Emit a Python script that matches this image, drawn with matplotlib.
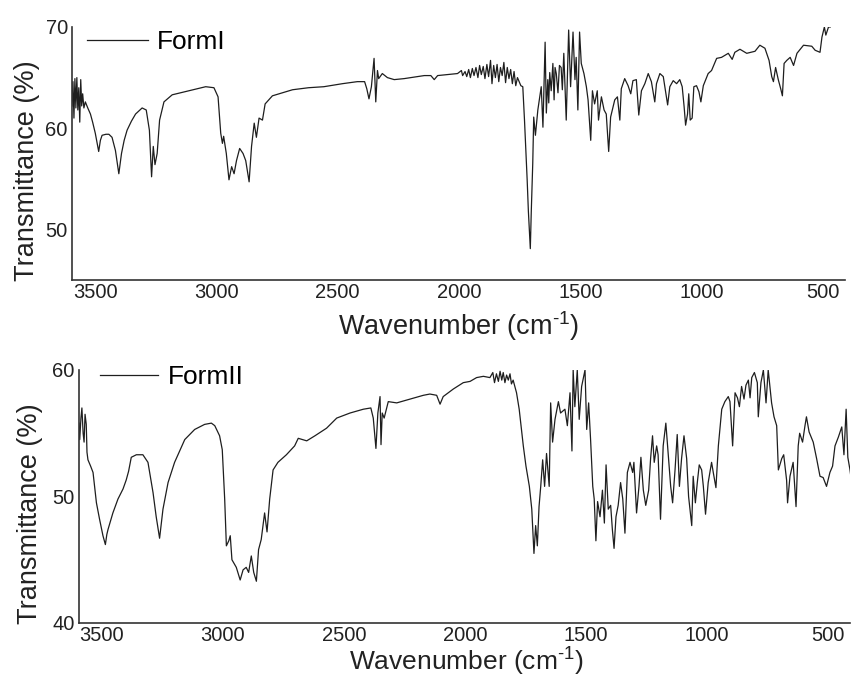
import numpy as np
import matplotlib
matplotlib.use("Agg")
import matplotlib.pyplot as plt

plt.rcParams['font.family'] = ['Liberation Sans', 'DejaVu Sans']
plt.rcParams['mathtext.fontset'] = 'custom'
plt.rcParams['mathtext.rm'] = 'Liberation Sans'
plt.rcParams['mathtext.it'] = 'Liberation Sans'

# ---------------- data: Form I ----------------
form1_wn = np.array([
    3595, 3591, 3587, 3583, 3579, 3575, 3571, 3567, 3563, 3559, 3555, 3551, 3546, 3540, 3530,
    3519, 3510, 3499, 3485, 3478, 3471, 3455, 3443, 3430, 3416, 3402, 3391, 3380, 3368, 3350,
    3333, 3306, 3289, 3276, 3267, 3260, 3253, 3244, 3234, 3216, 3182, 3113, 3044, 3010, 2993,
    2982, 2975, 2970, 2959, 2948, 2937, 2927, 2917, 2904, 2890, 2879, 2865, 2855, 2844, 2835,
    2824, 2810, 2799, 2769, 2714, 2686, 2620, 2557, 2480, 2419, 2389, 2380, 2371, 2361, 2350,
    2343, 2336, 2331, 2316, 2295, 2267, 2226, 2143, 2116, 2102, 2088, 2006, 1990, 1985, 1975,
    1968, 1960, 1953, 1945, 1938, 1930, 1922, 1915, 1908, 1900, 1893, 1885, 1878, 1870, 1864,
    1857, 1850, 1843, 1836, 1829, 1822, 1815, 1808, 1801, 1794, 1787, 1780, 1773, 1766, 1759,
    1752, 1745, 1737, 1730, 1719, 1714, 1706, 1702, 1696, 1692, 1685, 1675, 1661, 1654, 1645,
    1640, 1634, 1630, 1626, 1620, 1613, 1608, 1604, 1599, 1592, 1586, 1579, 1574, 1568, 1558,
    1548, 1540, 1530, 1522, 1517, 1510, 1503, 1496, 1485, 1475, 1468, 1457, 1450, 1441, 1430,
    1425, 1413, 1402, 1393, 1383, 1375, 1358, 1347, 1337, 1331, 1317, 1303, 1292, 1283, 1269,
    1259, 1248, 1234, 1220, 1207, 1193, 1186, 1172, 1158, 1140, 1131, 1117, 1103, 1090, 1080,
    1072, 1066, 1058, 1053, 1047, 1039, 1032, 1021, 1011, 1003, 993, 973, 959, 938, 918,
    890, 874, 863, 842, 814, 780, 760, 739, 722, 711, 704, 695, 684, 674, 667,
    660, 649, 635, 621, 607, 580, 546, 532, 512, 504, 494, 488, 477, 470])
form1_t = np.array([
    62.2, 64.6, 61.0, 64.9, 62.0, 65.0, 61.8, 64.0, 60.6, 64.8, 62.2, 63.4, 62.0, 62.6, 62.0,
    61.4, 60.6, 59.5, 57.7, 58.8, 59.3, 59.4, 59.4, 59.1, 57.8, 55.5, 57.5, 58.8, 59.8, 60.7,
    61.4, 62.0, 61.8, 59.8, 55.2, 58.2, 56.4, 57.5, 60.8, 62.6, 63.3, 63.7, 64.1, 64.0, 63.1,
    59.5, 58.5, 59.2, 57.5, 54.9, 56.2, 55.5, 56.8, 58.0, 57.5, 56.8, 54.7, 58.2, 60.5, 59.1,
    61.0, 60.8, 62.4, 63.2, 63.6, 63.8, 64.0, 64.1, 64.4, 64.6, 64.6, 63.9, 62.9, 64.1, 66.9,
    62.6, 65.7, 64.9, 65.4, 65.0, 64.8, 64.9, 65.2, 65.2, 64.8, 65.2, 65.4, 65.7, 65.2, 65.6,
    65.1, 65.8, 65.0, 65.9, 65.2, 66.0, 65.0, 66.2, 65.3, 66.1, 64.9, 66.3, 65.1, 66.7, 64.4,
    66.2, 65.0, 66.3, 64.6, 66.0, 65.2, 66.5, 64.5, 66.0, 64.9, 65.8, 64.4, 65.6, 64.2, 65.0,
    64.6, 64.2, 64.1, 60.8, 54.9, 51.8, 48.1, 51.8, 56.5, 61.1, 59.3, 61.8, 64.1, 60.1, 68.5,
    61.5, 64.8, 62.5, 65.5, 63.7, 66.4, 62.8, 66.0, 65.4, 63.5, 66.2, 66.0, 63.8, 67.4, 60.8,
    69.7, 64.1, 69.5, 64.8, 67.0, 61.8, 69.5, 66.4, 65.4, 64.1, 62.8, 58.8, 63.7, 62.4, 63.7,
    60.8, 63.1, 61.8, 61.4, 57.7, 61.1, 62.8, 63.1, 60.8, 63.9, 64.9, 64.2, 63.4, 64.7, 64.8,
    61.3, 63.7, 64.4, 65.4, 64.6, 62.6, 64.4, 65.4, 65.1, 62.3, 64.1, 64.7, 64.4, 64.8, 64.1,
    62.1, 60.3, 61.4, 63.4, 60.8, 61.0, 64.1, 64.2, 63.6, 62.6, 64.2, 65.4, 65.7, 66.9, 67.0,
    67.4, 66.8, 67.5, 67.8, 67.4, 67.6, 68.2, 67.9, 66.7, 65.1, 64.6, 66.0, 64.8, 63.9, 63.2,
    66.4, 66.7, 67.0, 66.2, 67.4, 68.2, 68.1, 67.7, 67.5, 69.0, 70.0, 69.2, 70.0, 70.0])

# ---------------- data: Form II ----------------
form2_wn = np.array([
    3595, 3592, 3587, 3583, 3578, 3574, 3570, 3565, 3562, 3558, 3547, 3537, 3523, 3510, 3496,
    3486, 3480, 3475, 3455, 3434, 3413, 3400, 3390, 3379, 3358, 3331, 3310, 3289, 3276, 3262,
    3248, 3227, 3200, 3158, 3117, 3076, 3048, 3034, 3014, 3003, 2993, 2986, 2976, 2970, 2963,
    2945, 2929, 2917, 2904, 2894, 2883, 2873, 2862, 2853, 2842, 2828, 2818, 2807, 2793, 2773,
    2738, 2704, 2689, 2654, 2620, 2572, 2530, 2475, 2420, 2389, 2379, 2368, 2360, 2351, 2347,
    2342, 2334, 2317, 2282, 2227, 2172, 2145, 2117, 2103, 2090, 2048, 2007, 1979, 1952, 1924,
    1897, 1885, 1878, 1870, 1862, 1855, 1848, 1842, 1835, 1828, 1821, 1814, 1808, 1801, 1787,
    1776, 1766, 1759, 1748, 1734, 1724, 1715, 1708, 1701, 1694, 1687, 1679, 1671, 1663, 1652,
    1646, 1638, 1628, 1614, 1605, 1587, 1577, 1566, 1558, 1553, 1546, 1536, 1528, 1518, 1504,
    1497, 1489, 1481, 1472, 1466, 1459, 1452, 1442, 1432, 1424, 1417, 1408, 1398, 1391, 1384,
    1376, 1367, 1357, 1348, 1339, 1329, 1318, 1307, 1302, 1291, 1281, 1273, 1263, 1253, 1241,
    1233, 1225, 1218, 1208, 1202, 1192, 1181, 1170, 1160, 1150, 1142, 1132, 1123, 1114, 1105,
    1095, 1084, 1076, 1063, 1057, 1048, 1040, 1032, 1022, 1015, 1006, 995, 981, 974, 963,
    953, 939, 926, 912, 905, 894, 884, 874, 866, 857, 847, 839, 829, 822, 815,
    804, 792, 788, 777, 767, 756, 747, 733, 723, 712, 705, 691, 683, 671, 667,
    657, 644, 632, 623, 617, 605, 595, 589, 578, 561, 547, 533, 520, 506, 492,
    481, 471, 457, 443, 434, 425, 418, 409, 402])
form2_t = np.array([
    55.8, 54.5, 56.2, 57.0, 55.0, 54.3, 56.5, 55.7, 53.5, 52.9, 52.4, 51.9, 49.5, 48.2, 46.9,
    46.2, 47.0, 47.4, 48.7, 49.8, 50.6, 51.3, 52.0, 53.1, 53.3, 53.3, 52.7, 50.3, 48.4, 46.7,
    49.0, 51.1, 52.7, 54.5, 55.3, 55.7, 55.8, 55.6, 54.8, 53.7, 49.8, 46.1, 46.5, 46.9, 45.0,
    44.4, 43.4, 44.2, 44.4, 44.0, 45.3, 44.0, 43.3, 45.8, 46.6, 48.7, 47.2, 49.8, 52.1, 52.7,
    53.3, 54.0, 54.6, 54.4, 54.8, 55.4, 56.2, 56.6, 56.9, 57.0, 56.2, 53.8, 56.6, 57.9, 54.1,
    56.6, 56.2, 57.5, 57.4, 57.7, 58.0, 58.1, 58.0, 57.3, 57.9, 58.5, 59.0, 59.1, 59.4, 59.5,
    59.4, 59.8, 59.0, 59.7, 59.1, 59.9, 59.2, 59.8, 59.0, 59.6, 59.2, 59.7, 58.9, 59.2, 58.2,
    56.9, 55.2, 54.0, 52.4, 50.8, 49.0, 45.5, 47.7, 46.1, 49.2, 50.8, 52.9, 50.8, 53.4, 50.8,
    57.4, 54.3, 56.1, 57.5, 56.6, 56.9, 55.6, 58.2, 53.6, 60.0, 57.1, 60.0, 56.1, 58.7, 60.0,
    55.3, 57.4, 54.5, 50.8, 49.8, 46.5, 49.6, 48.4, 50.5, 47.9, 52.5, 49.0, 49.3, 47.4, 45.9,
    48.4, 49.3, 51.1, 49.8, 47.1, 51.9, 52.7, 51.9, 52.7, 48.7, 50.8, 53.1, 50.5, 49.3, 50.5,
    53.0, 54.8, 52.7, 54.0, 53.3, 48.2, 54.0, 55.8, 53.3, 50.8, 49.5, 52.1, 54.9, 50.8, 53.0,
    54.8, 53.0, 50.0, 47.7, 51.6, 49.5, 51.1, 52.5, 52.1, 50.8, 48.6, 51.1, 52.7, 51.9, 50.7,
    54.0, 56.9, 57.5, 57.9, 57.5, 54.0, 58.2, 57.8, 57.1, 58.7, 57.7, 58.8, 59.2, 57.8, 59.4,
    59.8, 59.0, 56.3, 59.0, 60.0, 57.4, 60.0, 57.4, 56.3, 55.6, 52.1, 53.0, 53.3, 51.3, 49.5,
    51.6, 52.7, 49.2, 54.0, 55.0, 54.3, 55.6, 56.3, 55.1, 54.3, 53.0, 51.6, 51.5, 50.8, 51.9,
    52.4, 54.0, 54.7, 55.5, 53.3, 56.9, 53.1, 52.1, 51.1])

x_ticks = [3500, 3000, 2500, 2000, 1500, 1000, 500]
top_yticks = [50, 60, 70]
bot_yticks = [40, 50, 60]
labels = ["FormI", "FormII"]
xlabel = r"Wavenumber (cm$^{\text{-}1}$)"
ylabel = "Transmittance (%)"

W, H = 852, 679
fig = plt.figure(figsize=(W / 100, H / 100), dpi=100)

ax1 = fig.add_axes([72 / W, 1 - 280 / H, 773 / W, 253 / H])
ax2 = fig.add_axes([79 / W, 1 - 623 / H, 771 / W, 253 / H])

line_col = "#1e1e1e"
ax1.plot(form1_wn, form1_t, color=line_col, lw=0.9, label=labels[0])
ax2.plot(form2_wn, form2_t, color=line_col, lw=0.9, label=labels[1])

for ax, yt, yl in [(ax1, top_yticks, (45, 70)), (ax2, bot_yticks, (40, 60))]:
    ax.set_xlim(3595, 409)
    ax.set_ylim(*yl)
    ax.set_xticks(x_ticks)
    ax.set_yticks(yt)
    ax.tick_params(length=0, labelsize=14.5, colors="#222222", pad=3)
    ax.tick_params(axis='x', pad=2)
    for s in ["top", "right"]:
        ax.spines[s].set_visible(False)
    for s in ["left", "bottom"]:
        ax.spines[s].set_linewidth(1.2)
        ax.spines[s].set_color("#333333")

ax1.legend(loc="center left", bbox_to_anchor=(87 / W, 1 - 42 / H), bbox_transform=fig.transFigure,
           frameon=False, fontsize=19, handlelength=2.3, handletextpad=0.35, borderpad=0, borderaxespad=0)
ax2.legend(loc="center left", bbox_to_anchor=(100 / W, 1 - 377 / H), bbox_transform=fig.transFigure,
           frameon=False, fontsize=19, handlelength=2.2, handletextpad=0.38, borderpad=0, borderaxespad=0)

fig.text(27 / W, 1 - 171 / H, ylabel, rotation=90, ha="center", va="center", fontsize=19.5, color="#222222")
fig.text(30 / W, 1 - 514 / H, ylabel, rotation=90, ha="center", va="center", fontsize=19.5, color="#222222")
fig.text(459 / W, 1 - 326 / H, xlabel, ha="center", va="center", fontsize=19.5, color="#222222")
fig.text(466 / W, 1 - 662 / H, xlabel, ha="center", va="center", fontsize=19, color="#222222")

fig.savefig("out.png", dpi=100)
